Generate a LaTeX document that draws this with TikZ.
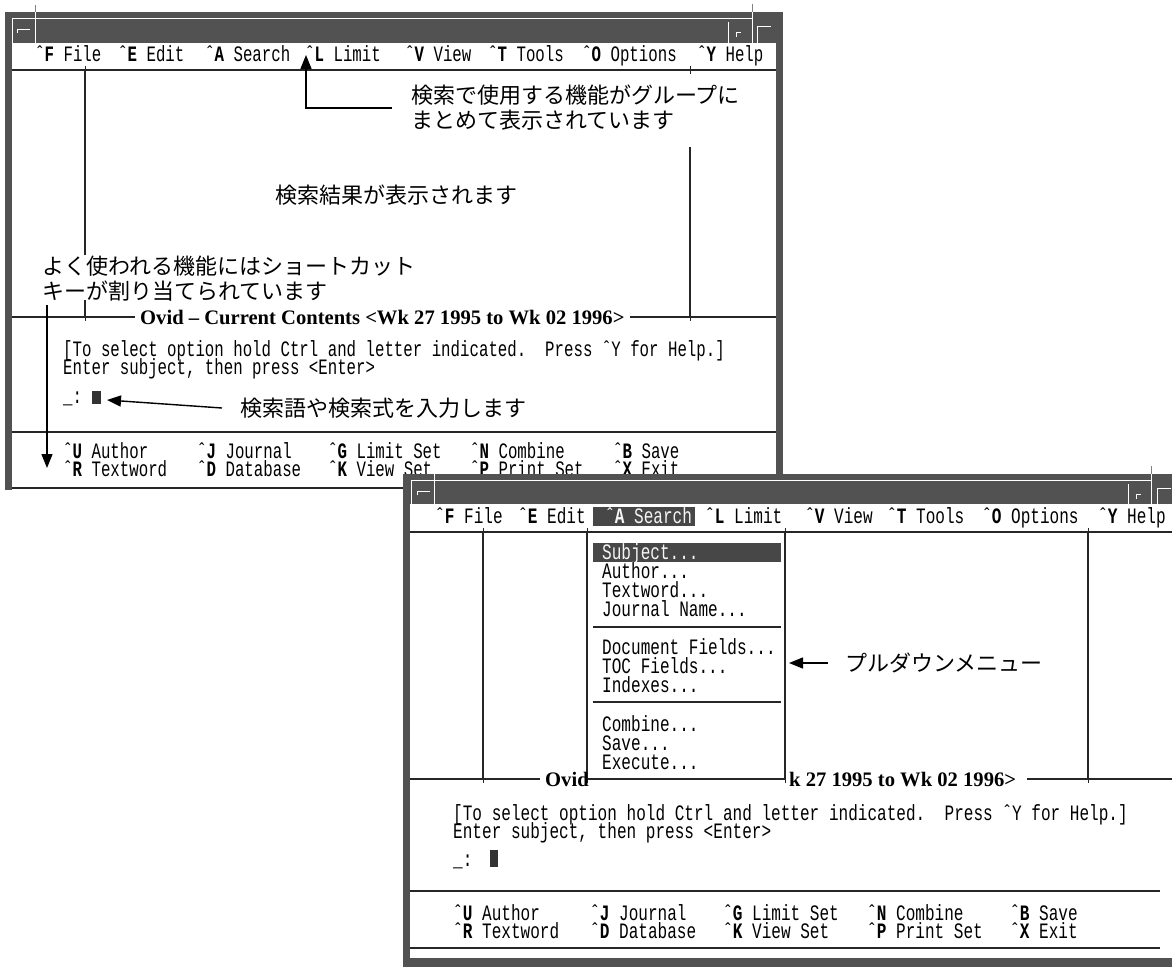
\documentclass[tikz,border=0pt]{standalone}
\usepackage{fontspec}
\usetikzlibrary{arrows.meta}
\newfontfamily\monoA[FakeStretch=0.716]{Liberation Mono}
\newfontfamily\monoB[FakeStretch=0.730]{Liberation Mono}
\newfontfamily\jpfont{Noto Sans CJK JP}
\newfontfamily\ovidfont{Liberation Serif}
\newcommand\ck[1]{ˆ\textbf{#1}}
\newcommand\tk[2]{\draw[tick] (#1,#2-4) -- (#1,#2+4);}
\tikzset{
  frame/.style={fill=black!68},
  bevel/.style={draw=white, line width=1pt},
  sep/.style={draw=black!85, line width=1.2pt},
  tick/.style={draw=black!85, line width=1pt},
  tA/.style={font=\monoA\fontsize{22}{22}\selectfont\frenchspacing, anchor=base west, inner sep=0pt},
  tB/.style={font=\monoB\fontsize{22}{22}\selectfont\frenchspacing, anchor=base west, inner sep=0pt},
  inv/.style={text=black!4},
  jp/.style={font=\jpfont\fontsize{22}{25}\selectfont, align=left, inner sep=0pt, anchor=west},
  ovid/.style={font=\ovidfont\bfseries\fontsize{20.6}{22}\selectfont, anchor=base west, inner sep=0pt},
  arr/.style={draw=black, line width=1.4pt, -{Triangle[length=14pt,width=11pt]}},
  hl/.style={fill=black!72},
}
\begin{document}
\begin{tikzpicture}[x=1pt,y=-1pt]
\useasboundingbox (0,0) rectangle (1172,967);
\clip (0,0) rectangle (1172,967);
% ================= window 1 =================
\fill[frame] (5,12) rectangle (783,43);
\fill[frame] (5,43) rectangle (12,490);
\fill[frame] (776,43) rectangle (783,474);
\draw[bevel] (12,43) -- (12,18) -- (752,18);
\draw[bevel] (35,12) -- (35,43);
\draw[bevel] (728,22) -- (728,43);
\draw[bevel] (752,12) -- (752,43);
\draw[draw=black!50, line width=1pt] (35,5) -- (35,12) (752,4) -- (752,12);
\draw[bevel] (17,33) -- (17,29) -- (30,29);
\draw[bevel] (736,37) -- (736,32) -- (741,32);
\draw[bevel] (757,43) -- (757,26) -- (771,26);
% menu bar
\node[tA] (aF) at (35,61) {\ck{F} File};
\node[tA] (aE) at (118,61) {\ck{E} Edit};
\node[tA] (aA) at (205,61) {\ck{A} Search};
\node[tA] (aL) at (305,61) {\ck{L} Limit};
\node[tA] (aV) at (405,61) {\ck{V} View};
\node[tA] (aT) at (488,61) {\ck{T} Tools};
\node[tA] (aO) at (582,61) {\ck{O} Options};
\node[tA] (aY) at (697,61) {\ck{Y} Help};
\draw[sep] (12,70) -- (776,70);
\tk{85}{70} \tk{690}{70}
% column lines
\draw[sep] (85,70) -- (85,255);
\draw[sep] (85,300) -- (85,317);
\draw[sep] (690,147) -- (690,317);
% title line
\draw[sep] (12,317) -- (135,317);
\draw[sep] (630,317) -- (776,317);
\tk{85}{317} \tk{690}{317}
\node[ovid] (aOvid) at (140,324) {Ovid – Current Contents <Wk 27 1995 to Wk 02 1996>};
% body
\node[tA] (aL1) at (63,356) {[To select option hold Ctrl and letter indicated.\ \ Press ˆY for Help.]};
\node[tA] (aL2) at (63,374) {Enter subject, then press <Enter>};
\node[tA] (aL3) at (63,403) {\_:};
\node[fill=black!80, inner sep=0pt, minimum width=9pt, minimum height=13pt] (aCur) at (96.5,397.5) {};
\draw[sep] (12,432) -- (776,432);
% command rows
\node[tA] (aU) at (63,458) {\ck{U} Author};
\node[tA] (aJ) at (197,458) {\ck{J} Journal};
\node[tA] (aG) at (328,458) {\ck{G} Limit Set};
\node[tA] (aN) at (470,458) {\ck{N} Combine};
\node[tA] (aB) at (613,458) {\ck{B} Save};
\node[tA] (aR) at (63,476) {\ck{R} Textword};
\node[tA] (aD) at (197,476) {\ck{D} Database};
\node[tA] (aK) at (328,476) {\ck{K} View Set};
\node[tA] (aP) at (470,476) {\ck{P} Print Set};
\node[tA] (aX) at (613,476) {\ck{X} Exit};
\draw[sep] (12,488) -- (405,488);
% callouts
\node[jp] (c1) at (411,108) {検索で使用する機能がグループに\\まとめて表示されています};
\coordinate (limTip) at (306,55);
\draw[arr] ([xshift=-19pt]c1.west) -| (limTip);
\node[jp] (cRes) at (275,195) {検索結果が表示されます};
\node[jp] (cShort) at (42,279) {よく使われる機能にはショートカット\\キーが割り当てられています};
\coordinate (shTop) at (47,305);
\coordinate (shTip) at (47,468);
\draw[arr] (shTop) -- (shTip);
\node[jp] (cIn) at (240,408) {検索語や検索式を入力します};
\coordinate (inTip) at (107,400);
\draw[arr] ([xshift=-18pt]cIn.west) -- (inTip);
% ================= window 2 =================
\fill[white] (403,474) rectangle (1172,967);
\fill[frame] (403,474) rectangle (1183,504);
\fill[frame] (403,504) rectangle (410,967);
\fill[frame] (403,958) rectangle (1172,967);
\draw[bevel] (411,504) -- (411,480) -- (1152,480);
\draw[bevel] (434,474) -- (434,504);
\draw[bevel] (1128,484) -- (1128,504);
\draw[bevel] (1151,474) -- (1151,504);
\draw[draw=black!50, line width=1pt] (1151,466) -- (1151,474);
\draw[bevel] (417,495) -- (417,491) -- (430,491);
\draw[bevel] (1136,499) -- (1136,494) -- (1141,494);
\draw[bevel] (1157,504) -- (1157,488) -- (1171,488);
% menu bar
\fill[hl] (593,507) rectangle (695,526);
\node[tB] (bF) at (435,523) {\ck{F} File};
\node[tB] (bE) at (518,523) {\ck{E} Edit};
\node[tB, inv] (bA) at (605,523) {\ck{A} Search};
\node[tB] (bL) at (705,523) {\ck{L} Limit};
\node[tB] (bV) at (805,523) {\ck{V} View};
\node[tB] (bT) at (887,523) {\ck{T} Tools};
\node[tB] (bO) at (982,523) {\ck{O} Options};
\node[tB] (bY) at (1098,523) {\ck{Y} Help};
\draw[sep] (410,532) -- (1172,532);
\tk{483}{532} \tk{587}{532} \tk{785}{532} \tk{1088}{532}
\draw[sep] (483,532) -- (483,779);
\draw[sep] (587,532) -- (587,779);
\draw[sep] (785,532) -- (785,779);
\draw[sep] (1088,532) -- (1088,779);
% pull-down menu
\fill[hl] (593,543) rectangle (781,562);
\node[tB, inv] (dSub) at (602,559) {Subject...};
\node[tB] (dAut) at (602,578) {Author...};
\node[tB] (dTxt) at (602,597) {Textword...};
\node[tB] (dJou) at (602,616) {Journal Name...};
\draw[sep] (593,627) -- (781,627);
\node[tB] (dDoc) at (602,654) {Document Fields...};
\node[tB] (dToc) at (602,673) {TOC Fields...};
\node[tB] (dInd) at (602,692) {Indexes...};
\draw[sep] (593,702) -- (781,702);
\node[tB] (dCom) at (602,731) {Combine...};
\node[tB] (dSav) at (602,750) {Save...};
\node[tB] (dExe) at (602,769) {Execute...};
% title line
\draw[sep] (410,779) -- (540,779);
\draw[sep] (587,779) -- (785,779);
\draw[sep] (1027,779) -- (1172,779);
\tk{483}{779} \tk{587}{779} \tk{785}{779} \tk{1088}{779}
\node[ovid] (bOvid) at (545,786) {Ovid};
\node[ovid] (bWk) at (789,786) {k 27 1995 to Wk 02 1996>};
% body
\node[tB] (bL1) at (453,820) {[To select option hold Ctrl and letter indicated.\ \ Press ˆY for Help.]};
\node[tB] (bL2) at (453,838) {Enter subject, then press <Enter>};
\node[tB] (bL3) at (453,866) {\_:};
\node[fill=black!80, inner sep=0pt, minimum width=8pt, minimum height=17pt] (bCur) at (494,858.5) {};
\draw[sep] (410,891) -- (1160,891);
\node[tB] (bU) at (453,920) {\ck{U} Author};
\node[tB] (bJ) at (590,920) {\ck{J} Journal};
\node[tB] (bG) at (723,920) {\ck{G} Limit Set};
\node[tB] (bN) at (867,920) {\ck{N} Combine};
\node[tB] (bB) at (1010,920) {\ck{B} Save};
\node[tB] (bR) at (453,938) {\ck{R} Textword};
\node[tB] (bD) at (590,938) {\ck{D} Database};
\node[tB] (bK) at (723,938) {\ck{K} View Set};
\node[tB] (bP) at (867,938) {\ck{P} Print Set};
\node[tB] (bX) at (1010,938) {\ck{X} Exit};
\draw[sep] (410,948) -- (1160,948);
% pull-down callout
\node[jp] (cPd) at (845,663) {プルダウンメニュー};
\coordinate (pdTip) at (789,663);
\draw[arr] ([xshift=-17pt]cPd.west) -- (pdTip);
\end{tikzpicture}
\end{document}
